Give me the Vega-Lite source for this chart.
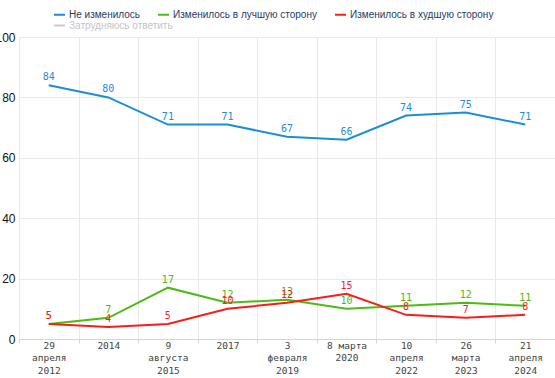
{
  "$schema": "https://vega.github.io/schema/vega-lite/v6.json",
  "autosize": "none",
  "width": 536,
  "height": 302,
  "padding": {"left": 19, "top": 37, "right": 0, "bottom": 39},
  "background": "white",
  "config": {
    "view": {"stroke": null},
    "font": "Liberation Sans"
  },
  "data": {
    "values": [
      {"date": "29|апреля|2012", "series": "Не изменилось", "value": 84},
      {"date": "2014", "series": "Не изменилось", "value": 80},
      {"date": "9|августа|2015", "series": "Не изменилось", "value": 71},
      {"date": "2017", "series": "Не изменилось", "value": 71},
      {"date": "3|февраля|2019", "series": "Не изменилось", "value": 67},
      {"date": "8 марта|2020", "series": "Не изменилось", "value": 66},
      {"date": "10|апреля|2022", "series": "Не изменилось", "value": 74},
      {"date": "26|марта|2023", "series": "Не изменилось", "value": 75},
      {"date": "21|апреля|2024", "series": "Не изменилось", "value": 71},
      {"date": "29|апреля|2012", "series": "Изменилось в лучшую сторону", "value": 5},
      {"date": "2014", "series": "Изменилось в лучшую сторону", "value": 7},
      {"date": "9|августа|2015", "series": "Изменилось в лучшую сторону", "value": 17},
      {"date": "2017", "series": "Изменилось в лучшую сторону", "value": 12},
      {"date": "3|февраля|2019", "series": "Изменилось в лучшую сторону", "value": 13},
      {"date": "8 марта|2020", "series": "Изменилось в лучшую сторону", "value": 10},
      {"date": "10|апреля|2022", "series": "Изменилось в лучшую сторону", "value": 11},
      {"date": "26|марта|2023", "series": "Изменилось в лучшую сторону", "value": 12},
      {"date": "21|апреля|2024", "series": "Изменилось в лучшую сторону", "value": 11},
      {"date": "29|апреля|2012", "series": "Изменилось в худшую сторону", "value": 5},
      {"date": "2014", "series": "Изменилось в худшую сторону", "value": 4},
      {"date": "9|августа|2015", "series": "Изменилось в худшую сторону", "value": 5},
      {"date": "2017", "series": "Изменилось в худшую сторону", "value": 10},
      {"date": "3|февраля|2019", "series": "Изменилось в худшую сторону", "value": 12},
      {"date": "8 марта|2020", "series": "Изменилось в худшую сторону", "value": 15},
      {"date": "10|апреля|2022", "series": "Изменилось в худшую сторону", "value": 8},
      {"date": "26|марта|2023", "series": "Изменилось в худшую сторону", "value": 7},
      {"date": "21|апреля|2024", "series": "Изменилось в худшую сторону", "value": 8}
    ]
  },
  "encoding": {
    "x": {
      "field": "date",
      "type": "ordinal",
      "sort": null,
      "scale": {"type": "band", "paddingInner": 0, "paddingOuter": 0},
      "axis": {
        "title": null,
        "labelAngle": 0,
        "labelExpr": "split(datum.label, '|')",
        "labelFont": "DejaVu Sans Mono",
        "labelFontSize": 9.5,
        "labelColor": "#444444",
        "labelLineHeight": 12.5,
        "labelPadding": -3,
        "labelBaseline": "top",
        "tickBand": "extent",
        "tickColor": "#ccd6eb",
        "tickSize": 4,
        "domainColor": "#ccd6eb",
        "grid": true,
        "gridColor": "#e9e9e9",
        "labelOverlap": false
      }
    },
    "y": {
      "field": "value",
      "type": "quantitative",
      "scale": {"domain": [0, 100], "nice": false},
      "axis": {
        "title": null,
        "values": [0, 20, 40, 60, 80, 100],
        "domain": false,
        "ticks": false,
        "labelPadding": 4,
        "labelFont": "Liberation Sans",
        "labelFontSize": 12,
        "labelColor": "#111111",
        "gridColor": "#e9e9e9"
      }
    }
  },
  "layer": [
    {
      "mark": {"type": "line", "strokeWidth": 2},
      "encoding": {
        "color": {
          "field": "series",
          "type": "nominal",
          "scale": {
            "domain": ["Не изменилось", "Изменилось в лучшую сторону", "Изменилось в худшую сторону"],
            "range": ["#1c8ed8", "#4cbb14", "#ff1a1a"]
          },
          "legend": {
            "title": null,
            "orient": "none",
            "legendX": 34,
            "legendY": -29,
            "direction": "horizontal",
            "symbolType": "stroke",
            "symbolSize": 121,
            "symbolStrokeWidth": 2,
            "labelFont": "Liberation Sans",
            "labelFontSize": 10,
            "labelColor": "#1f3b5f",
            "labelOffset": 3,
            "columnPadding": 14
          }
        }
      }
    },
    {
      "data": {"values": [{"date": "2014", "other": "Затрудняюсь ответить", "value": null}]},
      "mark": {"type": "line", "strokeWidth": 2},
      "encoding": {
        "stroke": {
          "field": "other",
          "type": "nominal",
          "scale": {"domain": ["Затрудняюсь ответить"], "range": ["#cccccc"]},
          "legend": {
            "title": null,
            "orient": "none",
            "legendX": 34,
            "legendY": -18,
            "direction": "horizontal",
            "symbolType": "stroke",
            "symbolSize": 121,
            "symbolStrokeWidth": 2,
            "labelFont": "Liberation Sans",
            "labelFontSize": 10,
            "labelColor": "#c4c4c4",
            "labelOffset": 3
          }
        }
      }
    },
    {
      "mark": {
        "type": "text",
        "font": "DejaVu Sans Mono",
        "fontSize": 10,
        "baseline": "bottom",
        "dy": -3
      },
      "encoding": {
        "text": {"field": "value", "type": "quantitative"},
        "color": {"field": "series", "type": "nominal"}
      }
    }
  ]
}
